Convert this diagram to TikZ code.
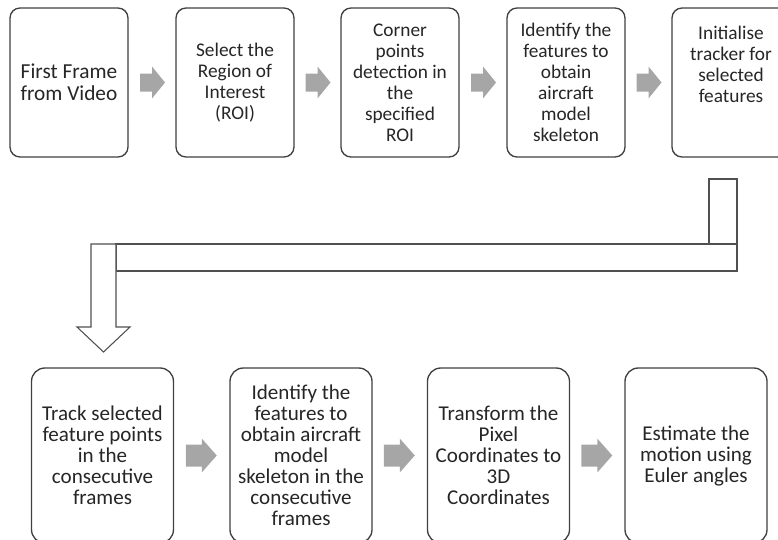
\documentclass[tikz,border=0pt]{standalone}
\usepackage{fontspec}
\setmainfont{Carlito}
\usetikzlibrary{calc}
\definecolor{Ink}{HTML}{262626}
\definecolor{Edge}{HTML}{404040}
\definecolor{Shade}{HTML}{A6A6A6}
\definecolor{Pipe}{HTML}{505050}
\tikzset{
  stage/.style={draw=Edge,line width=1pt,fill=white,text=Ink,align=center,inner sep=0pt,
    font=\fontsize{14.5}{15.75}\selectfont},
  upper/.style={stage,minimum width=88.5pt,minimum height=111.75pt,rounded corners=7.5pt},
  lower/.style={stage,minimum width=106.5pt,minimum height=131.25pt,rounded corners=10pt,
    font=\fontsize{15.8}{15.75}\selectfont},
  loose/.style={text=Ink,align=center,inner sep=0pt,font=\fontsize{14.5}{15.75}\selectfont},
  shade/.style={fill=Shade,draw=none},
  pipe/.style={draw=Pipe,line width=.8pt,fill=white}
}

\begin{document}
\begin{tikzpicture}[x=.75pt,y=-.75pt]
    \useasboundingbox (0,0) rectangle (778,539);
    \clip (0,0) rectangle (778,539);
    % first row
    \node[upper,font=\fontsize{16}{16.5}\selectfont] (s1) at (69,82.5) {First Frame\\from Video};
    \node[upper] (s2) at (235,82.5) {Select the\\Region of\\Interest\\(ROI)};
    \node[upper] (s3) at (400,82.5) {Corner\\points\\detection in\\the\\specified\\ROI};
    \node[upper] (s4) at (566,82.5) {Identify the\\features to\\obtain\\aircraft\\model\\skeleton};
    \node[upper] (s5) at (731,82.5) {};
    \node[loose,anchor=north] (s5t) at ($(s5.north)+(0,18)$) {Initialise\\tracker for\\selected\\features};
    % second row
    \node[lower] (s6) at (102.5,455.5) {Track selected\\feature points\\in the\\consecutive\\frames};
    \node[lower] (s7) at (301,455.5) {Identify the\\features to\\obtain aircraft\\model\\skeleton in the\\consecutive\\frames};
    \node[lower] (s8) at (498.5,455.5) {Transform the\\Pixel\\Coordinates to\\3D\\Coordinates};
    \node[lower] (s9) at (696,455.5) {Estimate the\\motion using\\Euler angles};
    % grey block arrows
    \foreach \a/\b in {s1/s2,s2/s3,s3/s4,s4/s5}
      \fill[shade] ($(\a.east)!.5!(\b.west)$) ++(-12,-9) -- ++(12,0) -- ++(0,-7)
        -- ++(13,16) -- ++(-13,16) -- ++(0,-7) -- ++(-12,0) -- cycle;
    \foreach \a/\b in {s6/s7,s7/s8,s8/s9}
      \fill[shade] ($(\a.east)!.5!(\b.west)$) ++(-16,-11) -- ++(16,0) -- ++(0,-6)
        -- ++(15,17) -- ++(-15,17) -- ++(0,-6) -- ++(-16,0) -- cycle;
    % bent arrow from s5 down to s6
    \draw[pipe] (709,179) rectangle (737,244);
    \draw[pipe] (116,244) rectangle (737,271);
    \draw[pipe] (91,244) -- (91,327) -- (77,327) -- (103.5,352) -- (130,327)
      -- (116,327) -- (116,244) -- cycle;
  \end{tikzpicture}
\end{document}
